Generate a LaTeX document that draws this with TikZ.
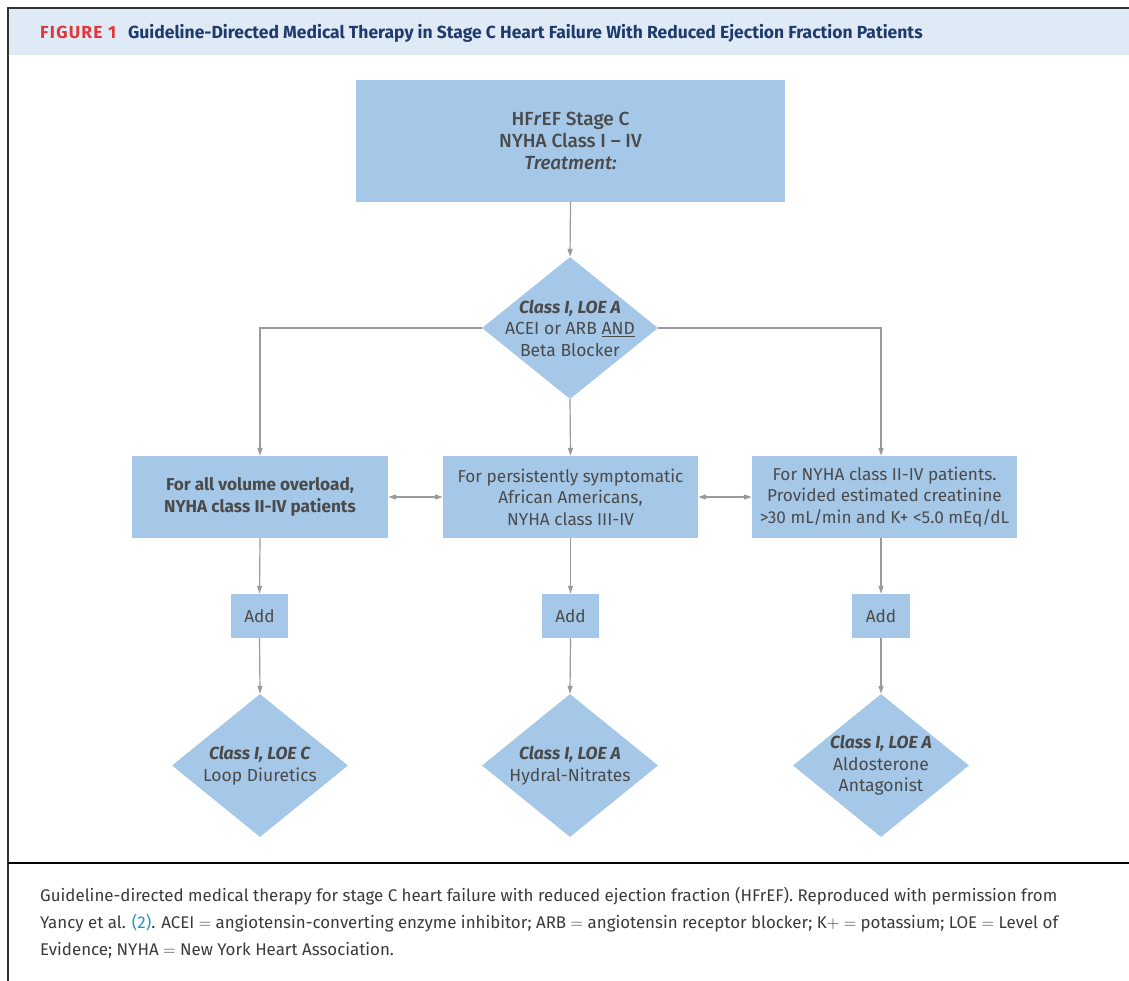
\documentclass[tikz,border=0pt]{standalone}
\usepackage{fontspec}
\setmainfont{Fira Sans}
\newfontfamily\medfont[Ligatures=TeX]{Fira Sans Medium}
\usetikzlibrary{shapes.geometric,arrows.meta}
\definecolor{boxblue}{HTML}{A6C8E8}
\definecolor{hdrblue}{HTML}{DEEAF6}
\definecolor{txtgray}{HTML}{4A4A4A}
\definecolor{arrgray}{HTML}{9A9A9A}
\definecolor{navy}{HTML}{1F3A6B}
\definecolor{figred}{HTML}{E0373C}
\definecolor{linkblue}{HTML}{2A8FC7}
\definecolor{capgray}{HTML}{3A3A3A}
\tikzset{
  box/.style={rectangle, fill=boxblue, draw=none, align=center, text=txtgray, inner sep=0pt},
  dia/.style={diamond, fill=boxblue, draw=none, inner sep=0pt, minimum width=176pt, minimum height=142pt},
  dlab/.style={align=center, text=txtgray, font=\fontsize{17.5}{21.5}\selectfont},
  conn/.style={draw=arrgray, line width=1.2pt, -{Triangle[length=8pt,width=5pt]}},
  dconn/.style={draw=arrgray, line width=1.2pt, {Triangle[length=8pt,width=5pt]}-{Triangle[length=8pt,width=5pt]}},
  bodyfont/.style={font=\fontsize{17.2}{21.5}\selectfont}
}
\begin{document}
\begin{tikzpicture}[x=1pt,y=-1pt]
\useasboundingbox (0,0) rectangle (1129,981);
% header band
\fill[hdrblue] (9,9) rectangle (1129,55);
\draw[line width=1.6pt, black!80] (8,981) -- (8,8) -- (1129,8);
\draw[line width=2pt, black] (8,863) -- (1129,863);
\node[anchor=base west, inner sep=0pt] (hdr) at (40,39) {\fontsize{17.5}{20}\selectfont\bfseries\textcolor{figred}{\addfontfeatures{LetterSpace=7}FIGURE 1}\hspace{12pt}\textcolor{navy}{Guideline-Directed Medical Therapy in Stage C Heart Failure With Reduced Ejection Fraction Patients}};

% top box
\node[box, minimum width=429pt, minimum height=122pt, font=\medfont\fontsize{19}{22}\selectfont] (top) at (570.5,141) {HF\textit{r}EF Stage C\\NYHA Class I -- IV\\\textit{Treatment:}};

% first diamond
\node[dia, label={[dlab]center:{\textbf{\textit{Class I, LOE A}}\\ACEI or ARB \underline{AND}\\Beta Blocker}}] (d1) at (570,328) {};

% middle row boxes
\node[box, minimum width=256pt, minimum height=82pt, bodyfont] (b1) at (260,497) {\textbf{For all volume overload,}\\\textbf{NYHA class II-IV patients}};
\node[box, minimum width=255pt, minimum height=82pt, bodyfont] (b2) at (570.5,497) {For persistently symptomatic\\African Americans,\\NYHA class III-IV};
\node[box, minimum width=265pt, minimum height=82pt, bodyfont] (b3) at (884.5,497) {For NYHA class II-IV patients.\\Provided estimated creatinine\\>30 mL/min and K+ <5.0 mEq/dL};

% add boxes
\node[box, minimum width=57pt, minimum height=44pt, bodyfont] (a1) at (259.5,616) {Add};
\node[box, minimum width=57pt, minimum height=44pt, bodyfont] (a2) at (570.5,616) {Add};
\node[box, minimum width=58pt, minimum height=44pt, bodyfont] (a3) at (881,616) {Add};

% bottom diamonds
\node[dia, minimum height=143pt, label={[dlab]center:{\textbf{\textit{Class I, LOE C}}\\Loop Diuretics}}] (e1) at (260,765.5) {};
\node[dia, minimum height=143pt, label={[dlab]center:{\textbf{\textit{Class I, LOE A}}\\Hydral-Nitrates}}] (e2) at (570,765.5) {};
\node[dia, minimum height=143pt, label={[dlab]center:{\textbf{\textit{Class I, LOE A}}\\Aldosterone\\Antagonist}}] (e3) at (881,765.5) {};

% connectors
\draw[conn] (top.south) -- (d1.north);
\draw[conn] (d1.south) -- (b2.north);
\draw[conn] (d1.west) -| (b1.north);
\draw[conn] (d1.east) -| ([xshift=-3.5pt]b3.north);
\draw[dconn] (b1.east) -- (b2.west);
\draw[dconn] (b2.east) -- (b3.west);
\draw[conn] (b1.south) -- (a1.north);
\draw[conn] (b2.south) -- (a2.north);
\draw[conn] ([xshift=-3.5pt]b3.south) -- (a3.north);
\draw[conn] (a1.south) -- (e1.north);
\draw[conn] (a2.south) -- (e2.north);
\draw[conn] (a3.south) -- (e3.north);

% caption
\node[anchor=base west, align=left, inner sep=0pt, text=capgray, font=\fontsize{16.9}{27}\selectfont] (cap) at (40,955) {Guideline-directed medical therapy for stage C heart failure with reduced ejection fraction (HFrEF). Reproduced with permission from\\Yancy et al. \textcolor{linkblue}{(2)}. ACEI $=$ angiotensin-converting enzyme inhibitor; ARB $=$ angiotensin receptor blocker; K$+$ $=$ potassium; LOE $=$ Level of\\Evidence; NYHA $=$ New York Heart Association.};
\end{tikzpicture}
\end{document}
